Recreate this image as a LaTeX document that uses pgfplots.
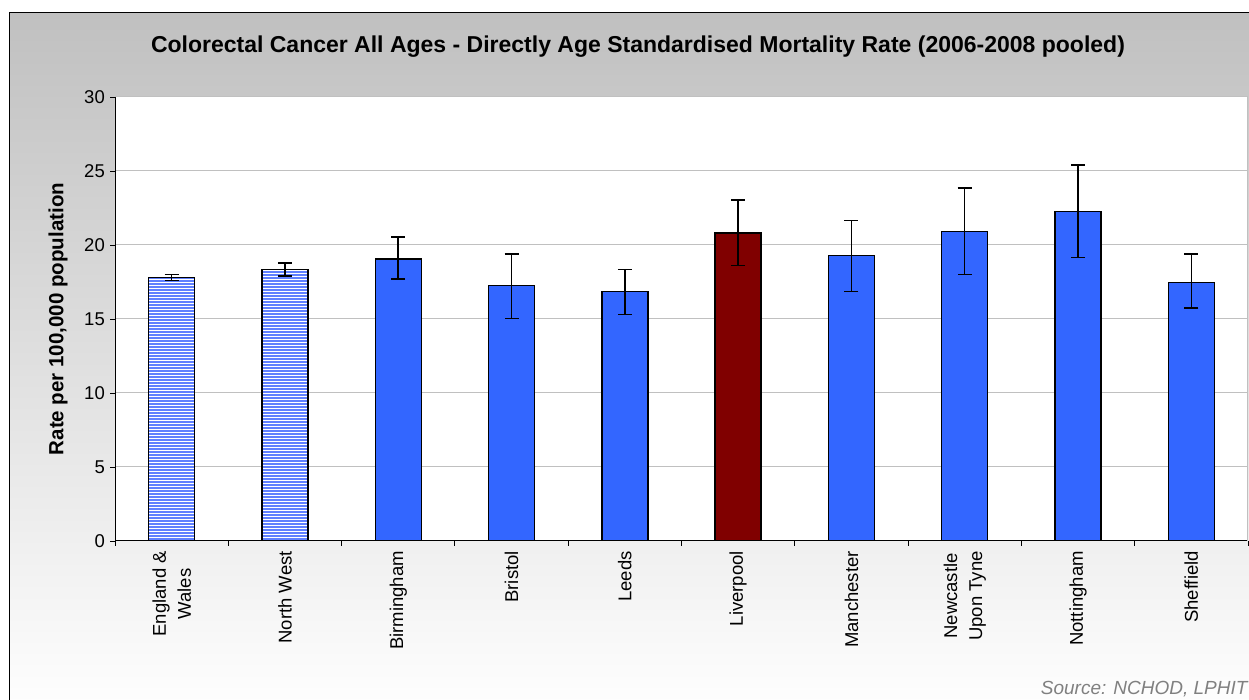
\documentclass[border=0pt]{standalone}
\usepackage{fontspec}
\setmainfont{Liberation Sans}
\usepackage{pgfplots}
\pgfplotsset{compat=1.18}
\usetikzlibrary{patterns}

\definecolor{barblue}{HTML}{3366FF}
\definecolor{barred}{HTML}{800000}
\definecolor{hatchblue}{HTML}{6080FF}
\definecolor{bggray}{HTML}{C0C0C0}
\definecolor{gridgray}{HTML}{C0C0C0}
\definecolor{srcgray}{HTML}{808080}

% horizontal stripes, 3pt apart
\pgfdeclarepatternformonly{hstripes}{\pgfqpoint{-1pt}{-1pt}}{\pgfqpoint{11pt}{4pt}}{\pgfqpoint{10pt}{3pt}}{
  \pgfsetlinewidth{2pt}
  \pgfpathmoveto{\pgfqpoint{-1pt}{1.5pt}}
  \pgfpathlineto{\pgfqpoint{11pt}{1.5pt}}
  \pgfusepath{stroke}
}

\begin{document}
\begin{tikzpicture}
\useasboundingbox (0pt,0pt) rectangle (1249pt,700pt);
% chart area: gray to white
\fill[top color=bggray, bottom color=white] (9pt,687pt) rectangle (1262pt,-15pt);
\draw[black, line width=1pt] (9pt,-15pt) -- (9pt,687pt) -- (1262pt,687pt);
\node[font=\bfseries\fontsize{23}{27}\selectfont] at (638pt,653pt)
  {Colorectal Cancer All Ages - Directly Age Standardised Mortality Rate (2006-2008 pooled)};

\begin{axis}[
    at={(115pt,159pt)}, anchor=south west,
    width=1133pt, height=444pt, scale only axis,
    axis background/.style={fill=white},
    ybar, bar width=46pt,
    xmin=-0.5, xmax=9.5,
    ymin=0, ymax=30,
    xtick={-0.5,0.5,...,9.5},
    xticklabels={},
    extra x ticks={0,1,...,9},
    extra x tick labels={{England \&\\Wales},North West,Birmingham,Bristol,Leeds,Liverpool,Manchester,{Newcastle\\Upon Tyne},Nottingham,Sheffield},
    extra x tick style={major tick length=0pt,
      tick label style={rotate=90, anchor=east, align=center, font=\fontsize{18.5}{25}\selectfont, inner xsep=10pt}},
    ytick={0,5,...,30},
    y tick label style={font=\fontsize{18.5}{22}\selectfont, inner xsep=5pt},
    /pgf/number format/assume math mode=true,
    tick align=outside,
    major tick length=5pt,
    tick style={black, line width=0.8pt},
    ymajorgrids,
    grid style={gridgray, line width=1pt},
    axis x line*=bottom, axis y line*=left,
    axis line style={-, black, line width=1pt},
    every axis y label/.style={at={(axis description cs:-0.0503,0.5)}, rotate=90, anchor=center},
    ylabel={\bfseries\fontsize{20.5}{24}\selectfont Rate per 100,000 population},
    error bars/y dir=both,
    error bars/y explicit,
    error bars/error bar style={black, line width=1.5pt},
    error bars/error mark options={rotate=90, mark size=7pt, line width=1.5pt, black},
]
% England & Wales, North West (hatched)
\addplot[bar shift=0pt, draw=black, line width=1.4pt, preaction={fill=white},
    pattern=hstripes, pattern color=hatchblue]
coordinates {
(0,17.8)  += (0,0.2)  -= (0,0.2)
(1,18.35) += (0,0.45) -= (0,0.45)
};
% cities
\addplot[bar shift=0pt, draw=black, line width=1.4pt, fill=barblue]
coordinates {
(2,19.05) += (0,1.5)  -= (0,1.35)
(3,17.25) += (0,2.15) -= (0,2.2)
(4,16.85) += (0,1.5)  -= (0,1.55)
(6,19.3)  += (0,2.35) -= (0,2.45)
(7,20.9)  += (0,2.95) -= (0,2.9)
(8,22.25) += (0,3.15) -= (0,3.1)
(9,17.45) += (0,1.95) -= (0,1.7)
};
% Liverpool
\addplot[bar shift=0pt, draw=black, line width=1.4pt, fill=barred]
coordinates {
(5,20.8) += (0,2.25) -= (0,2.2)
};
\draw[gridgray, line width=1pt] (rel axis cs:1,0) -- (rel axis cs:1,1);
\end{axis}

\node[anchor=base east, text=srcgray, font=\itshape\fontsize{19}{22}\selectfont] at (1251pt,5pt)
  {Source: NCHOD, LPHIT};
\end{tikzpicture}
\end{document}
